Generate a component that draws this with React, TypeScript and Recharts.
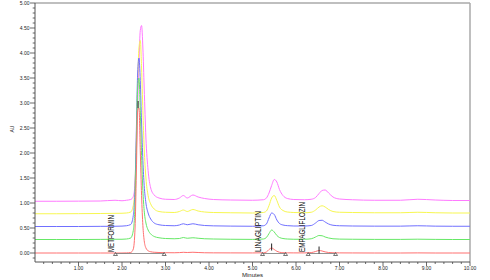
import React from "react";
import { LineChart, Line, XAxis, YAxis, ReferenceLine, ReferenceDot } from "recharts";

// retention time grid (minutes)
const minutes = [
  0, 0.5, 1.0, 1.5, 1.84, 2.0, 2.1, 2.2, 2.26, 2.3,
  2.33, 2.36, 2.39, 2.42, 2.45, 2.48, 2.51, 2.55, 2.6, 2.66,
  2.74, 2.85, 3.0, 3.2, 3.32, 3.41, 3.5, 3.63, 3.75, 3.9,
  4.1, 4.5, 5.0, 5.25, 5.32, 5.38, 5.44, 5.5, 5.56, 5.62,
  5.7, 5.8, 5.95, 6.2, 6.35, 6.45, 6.53, 6.6, 6.67, 6.75,
  6.85, 7.0, 7.3, 7.8, 8.4, 8.8, 9.2, 9.6, 10.0,
];

// AU, each injection stacked with its own offset
const injRed = [
  0, 0, 0, 0, 0, 0, 0.002, 0.01, 0.08, 0.5,
  1.6, 2.85, 2.9, 2.05, 1.15, 0.55, 0.25, 0.1, 0.045, 0.025,
  0.015, 0.01, 0.006, 0.005, 0.008, 0.014, 0.01, 0.015, 0.01, 0.005,
  0.003, 0.002, 0.001, 0.004, 0.02, 0.07, 0.1, 0.07, 0.035, 0.015,
  0.006, 0.003, 0.002, 0.002, 0.008, 0.03, 0.05, 0.04, 0.022, 0.01,
  0.005, 0.002, 0.001, 0, 0, 0.002, 0, 0, 0,
];
const injGreen = [
  0.27, 0.27, 0.27, 0.272, 0.275, 0.275, 0.28, 0.3, 0.45, 1.0,
  2.1, 3.3, 3.5, 2.85, 1.95, 1.25, 0.85, 0.6, 0.46, 0.38,
  0.33, 0.305, 0.29, 0.285, 0.29, 0.31, 0.295, 0.305, 0.295, 0.285,
  0.28, 0.275, 0.272, 0.28, 0.31, 0.39, 0.46, 0.42, 0.35, 0.31,
  0.29, 0.28, 0.275, 0.275, 0.285, 0.32, 0.35, 0.345, 0.32, 0.3,
  0.285, 0.278, 0.275, 0.272, 0.272, 0.276, 0.272, 0.27, 0.27,
];
const injBlue = [
  0.53, 0.53, 0.53, 0.533, 0.535, 0.538, 0.545, 0.57, 0.75, 1.35,
  2.45, 3.6, 3.9, 3.45, 2.6, 1.85, 1.35, 1.0, 0.8, 0.68,
  0.6, 0.565, 0.55, 0.545, 0.56, 0.585, 0.565, 0.585, 0.565, 0.55,
  0.543, 0.538, 0.535, 0.545, 0.58, 0.7, 0.8, 0.77, 0.66, 0.59,
  0.56, 0.547, 0.54, 0.54, 0.55, 0.6, 0.65, 0.655, 0.62, 0.58,
  0.555, 0.545, 0.54, 0.537, 0.537, 0.545, 0.537, 0.535, 0.535,
];
const injYellow = [
  0.785, 0.785, 0.787, 0.79, 0.793, 0.795, 0.8, 0.82, 0.95, 1.4,
  2.3, 3.4, 4.1, 4.25, 3.7, 2.85, 2.1, 1.5, 1.15, 0.98,
  0.88, 0.83, 0.815, 0.81, 0.83, 0.86, 0.83, 0.87, 0.84, 0.82,
  0.81, 0.805, 0.8, 0.81, 0.84, 0.95, 1.1, 1.15, 1.05, 0.92,
  0.85, 0.82, 0.81, 0.805, 0.815, 0.86, 0.92, 0.945, 0.92, 0.87,
  0.83, 0.815, 0.81, 0.805, 0.805, 0.815, 0.805, 0.8, 0.8,
];
const injMagenta = [
  1.035, 1.035, 1.037, 1.04, 1.055, 1.045, 1.055, 1.07, 1.13, 1.4,
  2.0, 2.9, 3.8, 4.45, 4.55, 4.1, 3.3, 2.3, 1.65, 1.3,
  1.16, 1.1, 1.075, 1.07, 1.1, 1.15, 1.1, 1.16, 1.12, 1.09,
  1.07, 1.06, 1.055, 1.065, 1.1, 1.2, 1.35, 1.47, 1.42, 1.27,
  1.15, 1.09, 1.07, 1.065, 1.075, 1.11, 1.19, 1.25, 1.26, 1.2,
  1.12, 1.08, 1.065, 1.055, 1.055, 1.075, 1.06, 1.05, 1.05,
];

// integration events on the first injection
const peakNames = ["METFORMIN", "LINAGLIPTIN", "EMPAGLIFLOZIN"];
const peakStart = [1.85, 5.23, 6.28];
const peakEnd = [2.97, 5.76, 6.91];
const peakApex = [2.37, 5.44, 6.53];
const apexLevel = [2.97, 0.12, 0.06];
const nameAt = [1.74, 5.13, 6.14];

const xMajor = [1, 2, 3, 4, 5, 6, 7, 8, 9, 10];
const xTicks = Array.from({ length: 50 }, (_, i) => Math.round((i + 1) * 2) / 10);
const yTicks = Array.from({ length: 52 }, (_, i) => Math.round(i - 1) / 10);

const data = minutes.map((t, i) => ({
  t,
  red: injRed[i],
  green: injGreen[i],
  blue: injBlue[i],
  yellow: injYellow[i],
  magenta: injMagenta[i],
}));

const font = '"Liberation Sans", Arial, sans-serif';
const nameLen = [37, 41, 50];

function XTick({ x, y, payload }: any) {
  const v = payload.value;
  const major = xMajor.some((m) => Math.abs(m - v) < 1e-6);
  return (
    <g>
      <line x1={x} x2={x} y1={y} y2={y + (major ? 4 : 2)} stroke="#444" strokeWidth={0.8} />
      {major && (
        <text x={x} y={y + 6} textAnchor="middle" dominantBaseline="central" fontSize={5} fill="#222" fontFamily={font}>
          {v.toFixed(2)}
        </text>
      )}
    </g>
  );
}

function YTick({ x, y, payload }: any) {
  const v = payload.value;
  const major = v >= 0 && Math.abs(v * 2 - Math.round(v * 2)) < 1e-6;
  return (
    <g>
      <line x1={x - (major ? 5 : 2.3)} x2={x} y1={y} y2={y} stroke="#444" strokeWidth={0.8} />
      {major && (
        <text x={x - 5.5} y={y} textAnchor="end" dominantBaseline="central" fontSize={5} fill="#222" fontFamily={font}>
          {v.toFixed(2)}
        </text>
      )}
    </g>
  );
}

function Tri({ cx, cy }: any) {
  return (
    <path
      d={`M${cx - 2},${cy + 1.5} L${cx + 2},${cy + 1.5} L${cx},${cy - 1.5} Z`}
      fill="none"
      stroke="#555"
      strokeWidth={0.8}
    />
  );
}

function PeakName({ cx, cy, text, len }: any) {
  const bx = cx + 3.2;
  return (
    <text
      x={bx}
      y={cy}
      transform={`rotate(-90 ${bx} ${cy})`}
      fontSize={9}
      fill="#111"
      fontFamily={font}
      textLength={len}
      lengthAdjust="spacingAndGlyphs"
    >
      {text}
    </text>
  );
}

export default function App() {
  return (
    <div style={{ position: "absolute", left: 0, top: 0, width: 490, height: 280, background: "#fff" }}>
      <LineChart
        width={490}
        height={280}
        data={data}
        margin={{ top: 3, right: 20, bottom: 0, left: 0 }}
        style={{ fontFamily: font }}
      >
        <XAxis
          type="number"
          dataKey="t"
          domain={[0, 10]}
          ticks={xTicks}
          interval={0}
          tick={<XTick />}
          tickLine={false}
          tickSize={0}
          tickMargin={0}
          height={18}
          axisLine={{ stroke: "#555", strokeWidth: 1 }}
        />
        <YAxis
          type="number"
          domain={[-0.18, 5]}
          ticks={yTicks}
          interval={0}
          tick={<YTick />}
          tickLine={false}
          tickSize={0}
          tickMargin={0}
          width={35}
          allowDataOverflow
          axisLine={{ stroke: "#555", strokeWidth: 1 }}
          label={{ value: "AU", angle: -90, position: "insideLeft", offset: 12, fontSize: 5, fill: "#222" }}
        />
        <ReferenceLine y={5} stroke="#aaa" strokeWidth={1.5} />
        <ReferenceLine x={10} stroke="#aaa" strokeWidth={1.5} />

        <Line type="monotone" dataKey="magenta" stroke="#ff7aff" strokeWidth={1} dot={false} activeDot={false} isAnimationActive={false} />
        <Line type="monotone" dataKey="yellow" stroke="#f7f750" strokeWidth={1} dot={false} activeDot={false} isAnimationActive={false} />
        <Line type="monotone" dataKey="blue" stroke="#7070ff" strokeWidth={1} dot={false} activeDot={false} isAnimationActive={false} />
        <Line type="monotone" dataKey="green" stroke="#66e866" strokeWidth={1} dot={false} activeDot={false} isAnimationActive={false} />
        <Line type="monotone" dataKey="red" stroke="#ff7070" strokeWidth={1} dot={false} activeDot={false} isAnimationActive={false} />

        {peakNames.map((n, i) => (
          <ReferenceLine
            key={"b" + n}
            segment={[{ x: peakStart[i], y: -0.01 }, { x: peakEnd[i], y: -0.01 }]}
            stroke="#777"
            strokeWidth={0.8}
          />
        ))}
        {peakNames.map((n, i) => (
          <ReferenceLine
            key={"a" + n}
            segment={[{ x: peakApex[i], y: apexLevel[i] - 0.07 }, { x: peakApex[i], y: apexLevel[i] + 0.07 }]}
            stroke="#222"
            strokeWidth={1}
          />
        ))}
        {peakNames.map((n, i) => (
          <ReferenceDot key={"s" + n} x={peakStart[i]} y={-0.02} r={0} shape={(p: any) => <Tri {...p} />} />
        ))}
        {peakNames.map((n, i) => (
          <ReferenceDot key={"e" + n} x={peakEnd[i]} y={-0.02} r={0} shape={(p: any) => <Tri {...p} />} />
        ))}
        {peakNames.map((n, i) => (
          <ReferenceDot
            key={"n" + n}
            x={nameAt[i]}
            y={0.02}
            r={0}
            shape={(p: any) => <PeakName cx={p.cx} cy={p.cy} text={n} len={nameLen[i]} />}
          />
        ))}
      </LineChart>
      <div
        style={{
          position: "absolute",
          left: 35,
          width: 435,
          top: 271.5,
          textAlign: "center",
          fontFamily: font,
          fontSize: 6,
          lineHeight: "7px",
          color: "#222",
        }}
      >
        Minutes
      </div>
    </div>
  );
}
